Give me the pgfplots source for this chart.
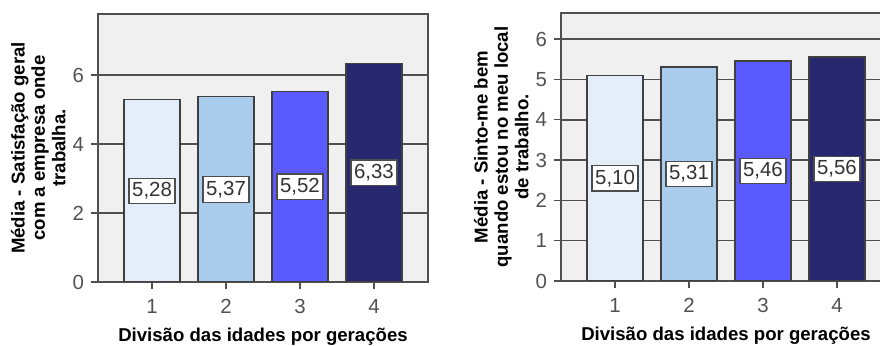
\documentclass[border=0pt]{standalone}
\usepackage{pgfplots}
\pgfplotsset{compat=1.18}
\usepackage{pgfplotstable}
\usepackage{fontspec}
\setmainfont{Liberation Sans}

\definecolor{gen1}{RGB}{227,238,250}
\definecolor{gen2}{RGB}{170,205,238}
\definecolor{gen3}{RGB}{90,90,255}
\definecolor{gen4}{RGB}{40,40,112}
\definecolor{panel}{RGB}{240,240,240}
\definecolor{frame}{RGB}{80,80,80}

% mean scores per generation group
\pgfplotstableread{
x y
1 5.28
2 5.37
3 5.52
4 6.33
}\satisf
\pgfplotstableread{
x y
1 5.10
2 5.31
3 5.46
4 5.56
}\bemestar

% centred multi-line axis title
\newcommand{\stacked}[1]{\begin{tabular}{@{}c@{}}#1\end{tabular}}

\pgfplotsset{
  spssbars/.style={
    scale only axis, width=165pt, height=134pt,
    xmin=0.27, xmax=4.73, ymin=0,
    xtick={1,2,3,4},
    axis background/.style={fill=panel},
    axis line style={frame, line width=0.8pt},
    ymajorgrids, grid style={frame, line width=0.8pt},
    tick align=outside, major tick length=3.5pt,
    tick style={frame, line width=0.7pt},
    xtick pos=left, ytick pos=left,
    tick label style={font=\fontsize{10.2}{10.2}\selectfont, text=black!68},
    xticklabel style={yshift=-1.5pt},
    /pgf/number format/assume math mode=true,
    every axis y label/.style={at={(rel axis cs:-0.173,0.5)}, rotate=90,
      anchor=center, inner sep=0pt,
      font=\bfseries\fontsize{9.3}{10.2}\selectfont},
    every axis x label/.style={at={(rel axis cs:0.5,-0.205)}, anchor=center,
      font=\bfseries\fontsize{9.3}{10.2}\selectfont},
    xlabel={Divisão das idades por gerações},
  },
  genbar/.style={ybar, bar width=28pt, bar shift=0pt, fill=#1,
    draw=black!75, line width=0.6pt},
  midlabels/.style={draw=none, mark=none, nodes near coords,
    point meta=explicit,
    every node near coord/.append style={anchor=center, fill=white,
      draw=black!70, line width=0.6pt, text=black!80,
      font=\fontsize{10.2}{10.2}\selectfont, inner xsep=1.6pt, inner ysep=2.2pt,
      /pgf/number format/.cd, fixed, fixed zerofill, precision=2, use comma,
      assume math mode=true}},
}

\begin{document}
\begin{tikzpicture}
\begin{axis}[spssbars, at={(49pt,32pt)}, anchor=south west,
  ymax=7.77, ytick={0,2,4,6},
  ylabel={\stacked{Média - Satisfação geral\\com a empresa onde\\trabalha.}}]
  \addplot[genbar=gen1, restrict x to domain=1:1] table[x=x, y=y] {\satisf};
  \addplot[genbar=gen2, restrict x to domain=2:2] table[x=x, y=y] {\satisf};
  \addplot[genbar=gen3, restrict x to domain=3:3] table[x=x, y=y] {\satisf};
  \addplot[genbar=gen4, restrict x to domain=4:4] table[x=x, y=y] {\satisf};
  \addplot[midlabels] table[x=x, y expr=\thisrow{y}/2, meta=y] {\satisf};
\end{axis}
\begin{axis}[spssbars, at={(280.5pt,32.5pt)}, anchor=south west,
  ymax=6.65, ytick={0,1,2,3,4,5,6},
  ylabel={\stacked{Média - Sinto-me bem\\quando estou no meu local\\de trabalho.}}]
  \addplot[genbar=gen1, restrict x to domain=1:1] table[x=x, y=y] {\bemestar};
  \addplot[genbar=gen2, restrict x to domain=2:2] table[x=x, y=y] {\bemestar};
  \addplot[genbar=gen3, restrict x to domain=3:3] table[x=x, y=y] {\bemestar};
  \addplot[genbar=gen4, restrict x to domain=4:4] table[x=x, y=y] {\bemestar};
  \addplot[midlabels] table[x=x, y expr=\thisrow{y}/2, meta=y] {\bemestar};
\end{axis}
\pgfresetboundingbox
\useasboundingbox (0,0) rectangle (440pt,173pt);
\end{tikzpicture}
\end{document}
